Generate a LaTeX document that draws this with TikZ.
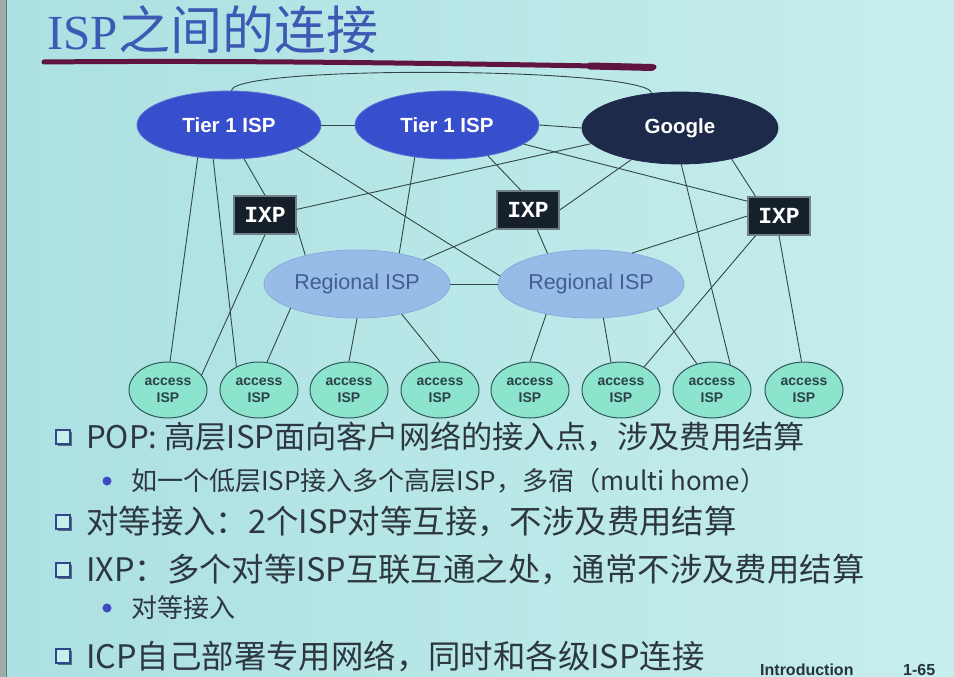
\documentclass[tikz,border=0pt]{standalone}
\usepackage{fontspec}
\usetikzlibrary{shapes.geometric,shadows}
\newfontfamily\cjk{Noto Sans CJK SC}
\newfontfamily\arialf{Liberation Sans}
\newfontfamily\serift{Liberation Serif}
\newfontfamily\monof{Liberation Mono}
\definecolor{bgL}{RGB}{172,224,226}
\definecolor{bgR}{RGB}{198,238,236}
\definecolor{stripc}{RGB}{160,170,168}
\definecolor{stripl}{RGB}{80,130,110}
\definecolor{tierc}{RGB}{55,78,205}
\definecolor{tierl}{RGB}{90,110,210}
\definecolor{googlec}{RGB}{30,42,74}
\definecolor{ixpfill}{RGB}{22,32,42}
\definecolor{ixpline}{RGB}{110,130,135}
\definecolor{regfill}{RGB}{152,188,232}
\definecolor{regline}{RGB}{135,170,220}
\definecolor{regtext}{RGB}{65,95,145}
\definecolor{accfill}{RGB}{140,228,205}
\definecolor{accline}{RGB}{45,90,90}
\definecolor{acctext}{RGB}{45,65,75}
\definecolor{linkc}{RGB}{50,70,72}
\definecolor{titlec}{RGB}{60,90,180}
\definecolor{penc}{RGB}{95,20,65}
\definecolor{txtc}{RGB}{45,55,65}
\definecolor{sqc}{RGB}{50,70,140}
\definecolor{dotc}{RGB}{60,75,190}
\definecolor{footc}{RGB}{40,50,60}
\begin{document}
\begin{tikzpicture}[x=1pt,y=-1pt,
  tier/.style={ellipse, fill=tierc, draw=tierl, line width=0.8pt, inner sep=0pt,
    minimum width=184pt, minimum height=68pt, text=white,
    font=\arialf\bfseries\fontsize{20.5}{24}\selectfont},
  ixpbox/.style={rectangle, fill=ixpfill, draw=ixpline, line width=1.5pt, inner sep=0pt,
    minimum width=62pt, minimum height=38pt, text=white,
    font=\monof\bfseries\fontsize{23}{24}\selectfont},
  reg/.style={ellipse, fill=regfill, draw=regline, line width=0.8pt, inner sep=0pt,
    minimum width=186pt, minimum height=68pt, text=regtext,
    font=\arialf\fontsize{21.5}{24}\selectfont},
  acc/.style={ellipse, fill=accfill, draw=accline, line width=1pt, inner sep=0pt,
    minimum width=78pt, minimum height=56pt, text=acctext, align=center,
    font=\arialf\bfseries\fontsize{14}{17}\selectfont},
  link/.style={draw=linkc, line width=0.9pt},
  btxt/.style={anchor=west, inner sep=0pt, text=txtc, font=\cjk\fontsize{32.4}{38}\selectfont},
  stxt/.style={anchor=west, inner sep=0pt, text=txtc, font=\cjk\fontsize{26}{30}\selectfont},
  sqbul/.style={rectangle, draw=sqc, line width=1.8pt, minimum size=14pt, inner sep=0pt,
    fill=bgR, drop shadow={shadow xshift=1.5pt, shadow yshift=-1.5pt, fill=black, opacity=0.5}},
  dotbul/.style={circle, fill=dotc, minimum size=9pt, inner sep=0pt},
  foot/.style={anchor=base west, inner sep=0pt, text=footc, font=\arialf\bfseries\fontsize{16}{18}\selectfont}
]
\useasboundingbox (0,0) rectangle (954,677);
\shade[left color=bgL, right color=bgR] (0,0) rectangle (954,677);
\fill[stripc] (0,0) rectangle (6,677);
\draw[stripl, line width=1.2pt] (6.5,0) -- (6.5,677);

% title
\node[anchor=base west, inner sep=0pt, text=titlec] (title) at (47,50)
  {\serift\fontsize{49}{60}\selectfont ISP\cjk\fontsize{52}{60}\selectfont 之间的连接};
\draw[penc, line width=5pt, line cap=round] (44,62) .. controls (250,60) and (480,64) .. (654,67);
\draw[penc, line width=7pt, line cap=round] (590,66) -- (652,67.5);

% nodes
\node[tier] (t1a) at (229,125) {Tier 1 ISP};
\node[tier] (t1b) at (447,125) {Tier 1 ISP};
\node[tier, fill=googlec, draw=googlec, minimum width=196pt, minimum height=72pt] (ggl) at (680,128) {Google};
\node[ixpbox] (x1) at (265,215) {IXP};
\node[ixpbox] (x2) at (528,210) {IXP};
\node[ixpbox] (x3) at (779,216) {IXP};
\node[reg] (ra) at (357,284) {Regional ISP};
\node[reg] (rb) at (591,284) {Regional ISP};
\foreach \i/\x in {1/168,2/259,3/349,4/440,5/530,6/621,7/712,8/804}
  \node[acc] (a\i) at (\x,390) {access\\ISP};

% links
\draw[link] (t1a.86) .. controls +(2,-26) and +(-4,-26) .. (ggl.129);
\draw[link] (t1a.east) -- (t1b.west);
\draw[link] (t1b.east) -- (ggl.west);
\draw[link] (ra.east) -- (rb.west);
\draw[link] (t1a.-134) -- (a1.86);
\draw[link] (t1a.-115) -- (a2.134);
\draw[link] (t1a.-66) -- (x1.north);
\draw[link] (t1a.-19.5) -- (rb.175);
\draw[link] (x1.10) -- (ggl.190);
\draw[link] (x1.south) -- (a1.24);
\draw[link] (x1.-21) -- (ra.151);
\draw[link] (t1b.-135) -- (ra.36);
\draw[link] (t1b.-37) -- (x2.110);
\draw[link] (t1b.-14.6) -- (x3.155);
\draw[link] (ggl.213) -- (x2.east);
\draw[link] (x2.210) -- (ra.20);
\draw[link] (x2.-65) -- (rb.145);
\draw[link] (ggl.-88) -- (a7.54);
\draw[link] (ggl.-31.6) -- (x3.140);
\draw[link] (x3.west) -- (rb.37);
\draw[link] (x3.220) -- (a6.45);
\draw[link] (x3.south) -- (a8.95);
\draw[link] (ra.200) -- (a2.74);
\draw[link] (ra.south) -- (a3.north);
\draw[link] (ra.-34) -- (a4.north);
\draw[link] (rb.214) -- (a5.north);
\draw[link] (rb.-70) -- (a6.110);
\draw[link] (rb.-20) -- (a7.120);

% bullets
\node[sqbul] (s1) at (63,437) {};
\node[btxt, font=\cjk\fontsize{31.2}{38}\selectfont] (l1) at (86,437) {POP: 高层ISP面向客户网络的接入点，涉及费用结算};
\node[dotbul] (d1) at (107,481) {};
\node[stxt] (l2) at (131,481) {如一个低层ISP接入多个高层ISP，多宿（multi home）};
\node[sqbul] (s2) at (63,522) {};
\node[btxt] (l3) at (86,522) {对等接入：2个ISP对等互接，不涉及费用结算};
\node[sqbul] (s3) at (63,570) {};
\node[btxt] (l4) at (86,570) {IXP：多个对等ISP互联互通之处，通常不涉及费用结算};
\node[dotbul] (d2) at (107,608) {};
\node[stxt] (l5) at (131,608) {对等接入};
\node[sqbul] (s4) at (63,656) {};
\node[btxt] (l6) at (86,656) {ICP自己部署专用网络，同时和各级ISP连接};

% footer
\node[foot] (ft1) at (760,675) {Introduction};
\node[foot] (ft2) at (903,675) {1-65};
\end{tikzpicture}
\end{document}
